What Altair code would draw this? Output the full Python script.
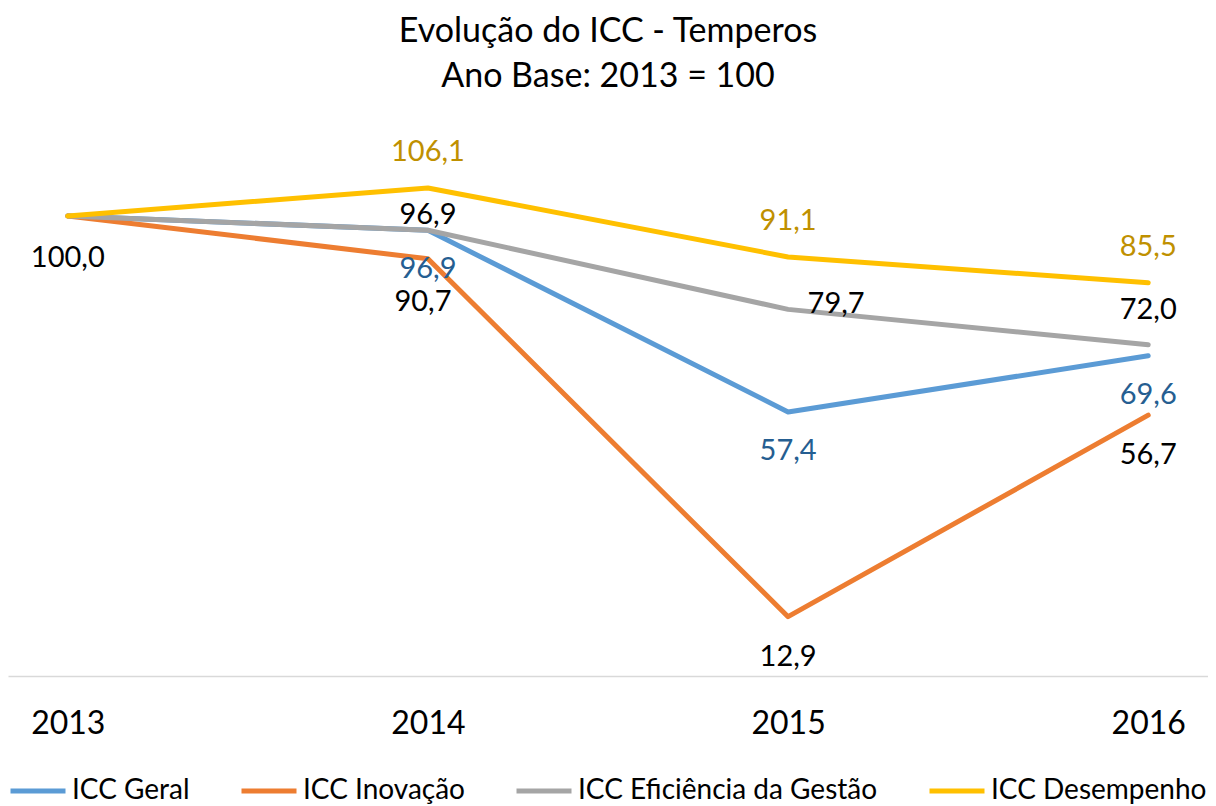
import altair as alt
import pandas as pd

years = ["2013", "2014", "2015", "2016"]
series_names = ["ICC Geral", "ICC Inovação", "ICC Eficiência da Gestão", "ICC Desempenho"]
icc_geral = [100.0, 96.9, 57.4, 69.6]
icc_inovacao = [100.0, 90.7, 12.9, 56.7]
icc_eficiencia = [100.0, 96.9, 79.7, 72.0]
icc_desempenho = [100.0, 106.1, 91.1, 85.5]
line_colors = ["#5B9BD5", "#ED7D31", "#A5A5A5", "#FFC000"]
title_lines = ["Evolução do ICC - Temperos", "Ano Base: 2013 = 100"]

rows = []
for name, vals in zip(series_names, [icc_geral, icc_inovacao, icc_eficiencia, icc_desempenho]):
    for yr, v in zip(years, vals):
        rows.append({"ano": yr, "serie": name, "valor": v})
df = pd.DataFrame(rows)

FONT = "Lato"
W, H = 1200, 552

x_enc = alt.X(
    "ano:O",
    scale=alt.Scale(type="point", padding=0.166),
    axis=alt.Axis(
        title=None, labelAngle=0, labelFontSize=32, labelFont=FONT,
        labelColor="#000000", labelPadding=32, domainColor="#D9D9D9",
        domainWidth=1.5, ticks=False, grid=False,
    ),
)
y_enc = alt.Y("valor:Q", scale=alt.Scale(domain=[0, 120], nice=False), axis=None)
color_enc = alt.Color(
    "serie:N",
    scale=alt.Scale(domain=series_names, range=line_colors),
    legend=alt.Legend(
        title=None, orient="none", direction="horizontal",
        legendX=0, legendY=637,
        symbolType="stroke", symbolSize=3025, symbolStrokeWidth=5,
        labelFontSize=28, labelFont=FONT, labelColor="#000000",
        labelOffset=4, columnPadding=41, labelLimit=500,
    ),
)

base = alt.Chart(df)

layers = []
for s in series_names:
    layers.append(
        base.transform_filter(alt.datum.serie == s)
        .mark_line(strokeWidth=5, strokeCap="round", strokeJoin="round")
        .encode(x=x_enc, y=y_enc, color=color_enc)
    )


def label_layer(serie, yrs, color, dy, dx=0):
    return (
        base.transform_filter(alt.datum.serie == serie)
        .transform_filter(alt.FieldOneOfPredicate(field="ano", oneOf=yrs))
        .transform_calculate(rotulo="replace(format(datum.valor, '.1f'), '.', ',')")
        .mark_text(font=FONT, fontSize=29, color=color, dy=dy, dx=dx,
                   baseline="middle", align="center")
        .encode(x=x_enc, y=y_enc, text="rotulo:N")
    )


layers += [
    label_layer("ICC Desempenho", ["2014", "2015", "2016"], "#BF9000", -36),
    label_layer("ICC Eficiência da Gestão", ["2014"], "#000000", -15),
    label_layer("ICC Eficiência da Gestão", ["2015"], "#000000", -5, 48),
    label_layer("ICC Eficiência da Gestão", ["2016"], "#000000", -35),
    label_layer("ICC Geral", ["2014", "2015", "2016"], "#255E91", 39),
    label_layer("ICC Inovação", ["2014"], "#000000", 43, -5),
    label_layer("ICC Inovação", ["2015", "2016"], "#000000", 40),
    label_layer("ICC Inovação", ["2013"], "#000000", 42),
]

chart = (
    alt.layer(*layers)
    .properties(
        width=W, height=H,
        padding={"left": 0, "right": 0, "top": 7, "bottom": 0},
        title=alt.TitleParams(
            text=title_lines, fontSize=34, font=FONT, fontWeight="normal",
            color="#000000", lineHeight=45, anchor="middle", offset=30,
        ),
    )
    .configure_view(stroke="transparent")
)

chart.save("out.html", embed_options={"renderer": "svg", "actions": False})
